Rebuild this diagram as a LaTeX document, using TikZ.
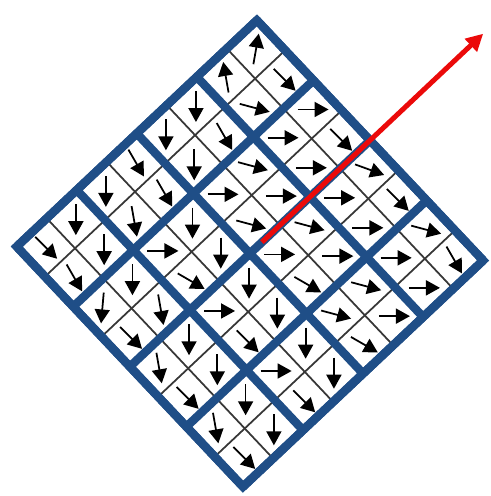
\documentclass[tikz,border=0pt]{standalone}
\usepackage{xcolor}
\usepackage{tikz}
\usetikzlibrary{arrows.meta}
\definecolor{myblue}{RGB}{31,78,135}
\definecolor{myred}{RGB}{235,10,10}
\definecolor{mygray}{RGB}{55,55,55}
\tikzset{
  cellgrid/.style={draw=myblue, line width=0.17cm, line join=miter},
  subline/.style={draw=mygray, line width=1pt},
  gradarrow/.style={-{Triangle[length=0.28cm, width=0.3cm]}, line width=1pt, color=black},
  mainarrow/.style={-{Triangle[length=0.34cm, width=0.34cm]}, line width=0.1cm, color=myred}
}

\begin{document}
\begin{tikzpicture}
  \useasboundingbox (0,0) rectangle (9.82,9.92);
  \begin{scope}[shift={(0.334,4.988)}, rotate=43.3, yscale=-1]
    % cross lines inside every cell
    \foreach \k in {0,...,3}
      \draw[subline] ({(\k+0.5)*1.65},0) -- ({(\k+0.5)*1.65},6.6)
                     (0,{(\k+0.5)*1.65}) -- (6.6,{(\k+0.5)*1.65});
    % 4x4 cells
    \draw[cellgrid] (0,0) grid[step=1.65] (6.6,6.6);
    \draw[cellgrid] (0,0) rectangle (6.6,6.6);
    % sample points
    \foreach \i in {0,...,7}
      \foreach \j in {0,...,7}
        \coordinate (s-\i-\j) at ({(\i+0.5)*0.825},{(\j+0.5)*0.825});
    \coordinate (ctr) at (3.63,3.3);
    \coordinate (tip) at (9.71,3.3);
  \end{scope}
  % gradient arrows
  \foreach \i/\j/\a in {0/0/-45, 1/0/-90, 1/1/-90, 0/1/-60,
                        0/2/-95, 1/2/-90, 1/3/-80, 0/3/-45,
                        0/4/-80, 1/4/-90, 1/5/-90, 0/5/-45,
                        0/6/-80, 1/6/-90, 1/7/-90, 0/7/-45,
                        2/0/-90, 2/1/-80, 3/0/-60, 3/1/-60,
                        2/2/0, 3/2/-90, 3/3/-90, 2/3/-30,
                        3/4/-90, 2/4/0, 3/5/-90, 2/5/-45,
                        3/6/-90, 2/6/0, 3/7/-90, 2/7/-45,
                        4/0/-90, 5/0/-90, 5/1/-60, 4/1/-90,
                        4/2/0, 5/2/-15, 5/3/0, 4/3/-15,
                        4/4/0, 5/4/-15, 5/5/0, 4/5/-30,
                        4/6/-15, 5/6/-15, 5/7/0, 4/7/-30,
                        6/0/100, 7/0/80, 7/1/-45, 6/1/-15,
                        6/2/0, 7/2/0, 7/3/-45, 6/3/0,
                        6/4/0, 7/4/-20, 7/5/-45, 6/5/0,
                        6/6/0, 7/6/-15, 7/7/-60, 6/7/0}
    \draw[gradarrow] (s-\i-\j) ++(\a+180:0.3) -- ++(\a:0.62);
  % dominant orientation
  \draw[mainarrow] (ctr) -- (tip);
\end{tikzpicture}
\end{document}
